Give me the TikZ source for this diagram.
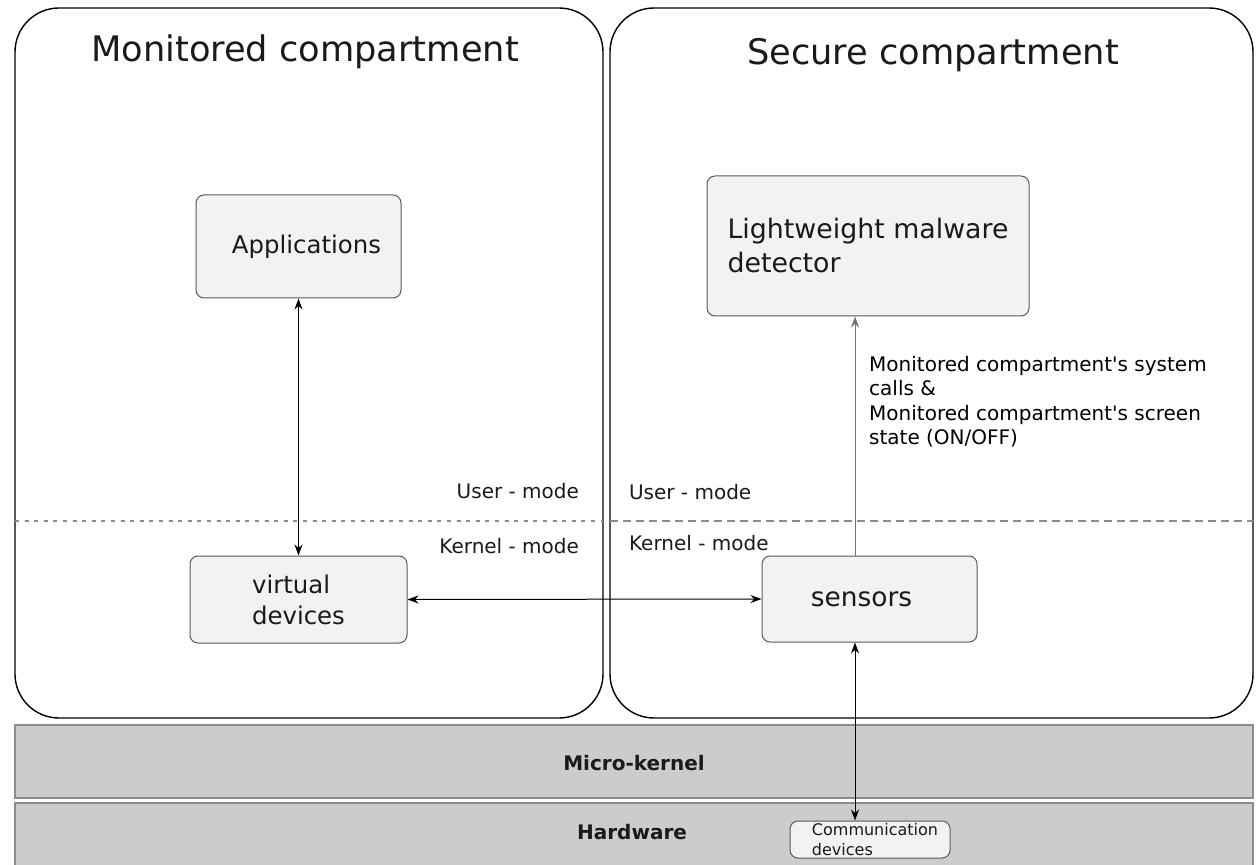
\documentclass[tikz,border=0pt]{standalone}
\usepackage{fontspec}
\setmainfont{DejaVu Sans}
\usepackage{tikz}
\usetikzlibrary{calc}
\usetikzlibrary{arrows.meta, positioning}

\definecolor{boxfill}{HTML}{F2F2F2}
\definecolor{bandfill}{HTML}{CCCCCC}
\definecolor{txt}{HTML}{1A1A1A}

\tikzset{
  compartment/.style={draw=black, line width=0.7pt, rounded corners=22pt},
  unit/.style={draw=black!65, fill=boxfill, rounded corners=4pt, line width=0.5pt,
               text=txt, font=\fontsize{12.2}{15.5}\selectfont, align=left},
  band/.style={draw=black!45, fill=bandfill, line width=0.6pt},
  modetext/.style={text=txt, font=\fontsize{10}{12.3}\selectfont},
  split/.style={black!45, line width=0.6pt},
  link/.style={<->, >={Stealth[length=5.5pt,width=4pt]}, line width=0.5pt},
}

\begin{document}
\begin{tikzpicture}[x=0.5pt,y=-0.5pt]
  \useasboundingbox (0,0) rectangle (1256,865);

  % compartments
  \draw[compartment] (15,8) rectangle (603,718);
  \draw[compartment] (610,8) rectangle (1253,718);
  \node[text=txt, font=\fontsize{17.6}{20}\selectfont] (montitle) at (305,52) {Monitored compartment};
  \node[text=txt, font=\fontsize{17.6}{20}\selectfont] (sectitle) at (933,55) {Secure compartment};

  % layers
  \draw[band] (15,725) rectangle (1253,798);
  \draw[band] (15,803) rectangle (1253,872);
  \node[font=\bfseries\fontsize{10}{12}\selectfont, text=txt] (mk) at (634,763) {Micro-kernel};
  \node[font=\bfseries\fontsize{10}{12}\selectfont, text=txt] (hw) at (632,832) {Hardware};

  % user / kernel split
  \draw[split, dash pattern=on 2pt off 2.8pt] (15,521) -- (603,521);
  \draw[split, dash pattern=on 4pt off 2.5pt] (610,521) -- (1253,521);
  \node[modetext, anchor=east]  (umodeL) at (586,491) {User - mode};
  \node[modetext, anchor=east]  (kmodeL) at (586,546) {Kernel - mode};
  \node[modetext, anchor=west]  (umodeR) at (622,492) {User - mode};
  \node[modetext, anchor=west]  (kmodeR) at (622,543) {Kernel - mode};

  % components
  \node[unit, minimum width=102.5pt, minimum height=51.5pt] (apps) at (298.5,246.5) {\hspace{8pt}Applications};
  \node[unit, minimum width=161pt, minimum height=70pt,
        font=\fontsize{13.4}{17}\selectfont] (detector) at (868,246) {Lightweight malware\\detector};
  \node[unit, minimum width=108.5pt, minimum height=43.5pt] (vdev) at (298.5,599.5) {virtual\\devices};
  \node[unit, minimum width=107.5pt, minimum height=43pt,
        font=\fontsize{13.2}{16}\selectfont] (sensors) at (869.5,599) {\hspace{-8pt}sensors};
  \node[unit, minimum width=80pt, minimum height=18.5pt, inner sep=1pt,
        font=\fontsize{8}{10}\selectfont] (comm) at (870,839.5) {\hspace*{5pt}Communication\\\hspace*{5pt}devices};

  % connectors
  \coordinate (snsup) at ([xshift=-7.25pt]sensors.north);
  \coordinate (snsdown) at ([xshift=-7.25pt]sensors.south);
  \draw[link] (apps.south) -- (vdev.north);
  \draw[link] (vdev.east) -- (sensors.west);
  \draw[link, -{Stealth[length=5.5pt,width=4pt]}, black!55] (snsup) -- (snsup |- detector.south)
    node[pos=0.865, anchor=north west, xshift=3.5pt, modetext, align=left, black] (calls)
    {Monitored compartment\textquotesingle s system\\calls \&\\Monitored compartment\textquotesingle s screen\\state (ON/OFF)};
  \draw[link] (snsdown) -- (snsdown |- comm.north);
\end{tikzpicture}
\end{document}
